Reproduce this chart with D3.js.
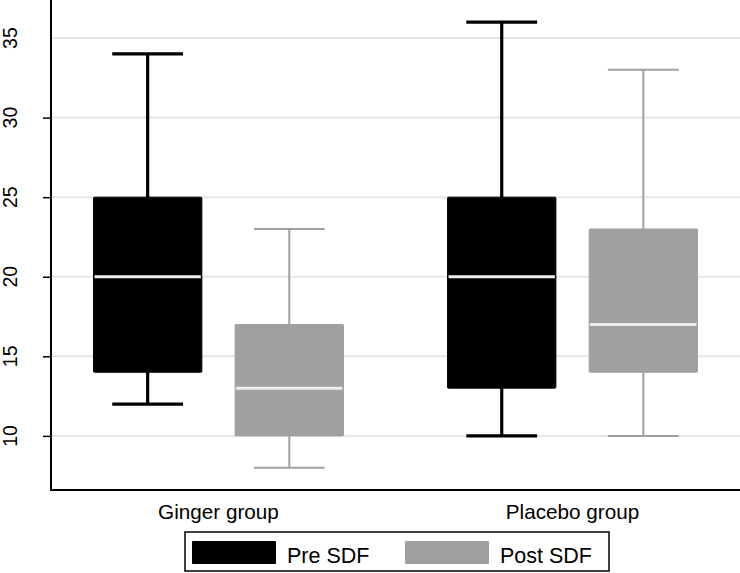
<!DOCTYPE html>
<html><head><meta charset="utf-8">
<script src="https://cdn.jsdelivr.net/npm/d3@7"></script>
<style>body{margin:0;background:#fff;}svg{display:block;font-family:"Liberation Sans",Arial,sans-serif;}</style>
</head><body><svg id="c" width="740" height="573"></svg>
<script>
const groups = ["Ginger group", "Placebo group"];
const seriesNames = ["Pre SDF", "Post SDF"];
// [low whisker, Q1, median, Q3, high whisker]
const gingerPre = [12, 14, 20, 25, 34];
const gingerPost = [8, 10, 13, 17, 23];
const placeboPre = [10, 13, 20, 25, 36];
const placeboPost = [10, 14, 17, 23, 33];
const yTicks = [10, 15, 20, 25, 30, 35];
const colors = ["#000000", "#a0a0a0"];

const data = [
  {group: groups[0], series: seriesNames[0], v: gingerPre},
  {group: groups[0], series: seriesNames[1], v: gingerPost},
  {group: groups[1], series: seriesNames[0], v: placeboPre},
  {group: groups[1], series: seriesNames[1], v: placeboPost}
];

const svg = d3.select("#c");
const mLeft = 51, mRight = 740, mTop = 0, mBottom = 490;
const y = d3.scaleLinear().domain([6.6, 37.39]).range([mBottom, mTop]);
const x0 = d3.scaleBand().domain(groups).range([mLeft, mRight]).paddingInner(0.2).paddingOuter(0.073);
const x1 = d3.scaleBand().domain(seriesNames).range([0, x0.bandwidth()]).padding(0);
const color = d3.scaleOrdinal().domain(seriesNames).range(colors);

// gridlines
svg.append("g").selectAll("line").data(yTicks).join("line")
  .attr("x1", mLeft).attr("x2", mRight)
  .attr("y1", d => y(d)).attr("y2", d => y(d))
  .attr("stroke", "#e6e6e6").attr("stroke-width", 2);

// y axis
const yAxis = d3.axisLeft(y).tickValues(yTicks).tickSize(8).tickSizeOuter(0);
const gy = svg.append("g").attr("transform", `translate(${mLeft},0)`).call(yAxis);
gy.select(".domain").remove();
gy.selectAll(".tick line").attr("stroke", "#000").attr("stroke-width", 1.5)
  .attr("display", d => d === 35 ? "none" : null);
gy.selectAll(".tick text").remove();
svg.append("g").selectAll("text").data(yTicks).join("text")
  .attr("transform", d => `translate(16.5,${y(d)}) rotate(-90)`)
  .attr("text-anchor", "middle")
  .attr("font-size", 19.5).attr("fill", "#000")
  .text(d => d);

// boxes
const boxes = svg.append("g");
data.forEach(d => {
  const cx = x0(d.group) + x1(d.series) + x1.bandwidth() / 2;
  const bw = x1.step() * 0.765;
  const cw = x1.step() * 0.5;
  const pre = d.series === seriesNames[0];
  const c = color(d.series);
  const sw = pre ? 3.2 : 2;
  const [lo, q1, med, q3, hi] = d.v;
  const g = boxes.append("g");
  g.append("line").attr("x1", cx).attr("x2", cx).attr("y1", y(hi)).attr("y2", y(q3)).attr("stroke", c).attr("stroke-width", sw);
  g.append("line").attr("x1", cx).attr("x2", cx).attr("y1", y(q1)).attr("y2", y(lo)).attr("stroke", c).attr("stroke-width", sw);
  g.append("line").attr("x1", cx - cw / 2).attr("x2", cx + cw / 2).attr("y1", y(hi)).attr("y2", y(hi)).attr("stroke", c).attr("stroke-width", sw);
  g.append("line").attr("x1", cx - cw / 2).attr("x2", cx + cw / 2).attr("y1", y(lo)).attr("y2", y(lo)).attr("stroke", c).attr("stroke-width", sw);
  g.append("rect").attr("x", cx - bw / 2).attr("width", bw)
    .attr("y", y(q3)).attr("height", y(q1) - y(q3))
    .attr("fill", c).attr("stroke", c).attr("stroke-width", 1).attr("stroke-linejoin", "round").attr("rx", 1);
  g.append("line").attr("x1", cx - bw / 2 + 1).attr("x2", cx + bw / 2 - 1).attr("y1", y(med)).attr("y2", y(med))
    .attr("stroke", "#eeeeee").attr("stroke-width", 3);
});

// axis lines
svg.append("line").attr("x1", mLeft).attr("x2", mLeft).attr("y1", mTop).attr("y2", mBottom + 1)
  .attr("stroke", "#000").attr("stroke-width", 2);
svg.append("line").attr("x1", mLeft - 1).attr("x2", mRight).attr("y1", mBottom).attr("y2", mBottom)
  .attr("stroke", "#000").attr("stroke-width", 2);

// x labels
svg.append("g").selectAll("text").data(groups).join("text")
  .attr("x", d => x0(d) + x0.bandwidth() / 2)
  .attr("y", 519).attr("text-anchor", "middle")
  .attr("font-size", 20.7).attr("fill", "#000").text(d => d);

// legend
const lg = svg.append("g");
lg.append("rect").attr("x", 185).attr("y", 532).attr("width", 424).attr("height", 39)
  .attr("fill", "#fff").attr("stroke", "#000").attr("stroke-width", 1.5);
const legX = [192, 405];
seriesNames.forEach((s, i) => {
  lg.append("rect").attr("x", legX[i]).attr("y", 541).attr("width", 84).attr("height", 23)
    .attr("fill", color(s)).attr("rx", 1);
  lg.append("text").attr("x", legX[i] + 95).attr("y", 563)
    .attr("font-size", 21.5).attr("fill", "#000").text(s);
});
</script>
</body></html>
